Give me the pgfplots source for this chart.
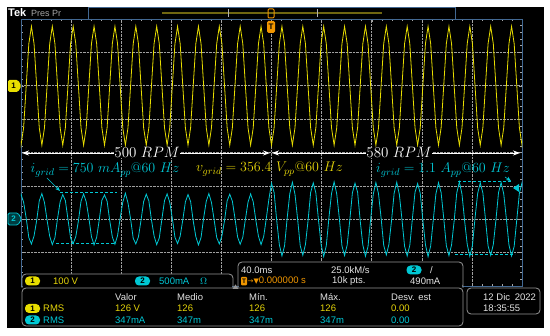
\RequirePackage{fix-cm}
\documentclass[border=0pt]{standalone}
\usepackage{pgfplots}
\pgfplotsset{compat=1.18}
\usepackage{fontspec}
\newfontfamily\ui{Liberation Sans}
\newfontfamily\sym{DejaVu Sans}
\usetikzlibrary{arrows.meta}

\definecolor{scy}{RGB}{232,222,0}
\definecolor{scc}{RGB}{0,200,212}
\definecolor{txy}{RGB}{230,214,10}
\definecolor{txc}{RGB}{0,200,214}
\definecolor{gridb}{RGB}{66,104,146}
\definecolor{orng}{RGB}{240,150,0}
\definecolor{boxg}{RGB}{150,150,150}
\definecolor{wtx}{RGB}{228,228,228}
\definecolor{olv}{RGB}{112,102,16}
\newcommand\uis{\ui\fontsize{9.5}{10}\selectfont}
\newcommand\lab{\fontsize{14}{15}\selectfont}

\tikzset{pill/.style={rounded corners=4pt, inner sep=0pt, minimum width=15pt,
  minimum height=9pt, font=\ui\bfseries\fontsize{8}{8}\selectfont, text=black}}

\begin{document}
\begin{tikzpicture}
\begin{scope}[x=1pt,y=-1pt]
\fill[white] (0,0) rectangle (550,336);
\fill[black] (7,7) rectangle (544,328);
\end{scope}

\begin{axis}[
  at={(21pt,-19pt)}, anchor=north west,
  width=501pt, height=267pt, scale only axis,
  xmin=-96, xmax=96, ymin=-4, ymax=4,
  xtick={-96,-76.8,-57.6,-38.4,-19.2,0,19.2,38.4,57.6,76.8,96},
  ytick={-4,-3,-2,-1,0,1,2,3,4},
  minor x tick num=4, minor y tick num=4,
  xticklabels={}, yticklabels={},
  axis line style={gridb, line width=0.8pt},
  grid=major, major grid style={gray!75, densely dotted, line width=0.5pt},
  tick style={gray!70, line width=0.4pt}, tick align=inside,
  major tick length=3pt, minor tick length=2pt,
  axis background/.style={fill=black},
]
% channel 1, grid voltage (div)
\addplot[scy, line width=0.8pt] coordinates {
(-97,0.74)
(-96,0.22)(-95,0.74)(-94,2)(-93,3.26)(-92,3.78)(-91,3.26)(-90,2)(-89,0.74)
(-88,0.22)(-87,0.74)(-86,2)(-85,3.26)(-84,3.78)(-83,3.26)(-82,2)(-81,0.74)
(-80,0.22)(-79,0.74)(-78,2)(-77,3.26)(-76,3.78)(-75,3.26)(-74,2)(-73,0.74)
(-72,0.22)(-71,0.74)(-70,2)(-69,3.26)(-68,3.78)(-67,3.26)(-66,2)(-65,0.74)
(-64,0.22)(-63,0.74)(-62,2)(-61,3.26)(-60,3.78)(-59,3.26)(-58,2)(-57,0.74)
(-56,0.22)(-55,0.74)(-54,2)(-53,3.26)(-52,3.78)(-51,3.26)(-50,2)(-49,0.74)
(-48,0.22)(-47,0.74)(-46,2)(-45,3.26)(-44,3.78)(-43,3.26)(-42,2)(-41,0.74)
(-40,0.22)(-39,0.74)(-38,2)(-37,3.26)(-36,3.78)(-35,3.26)(-34,2)(-33,0.74)
(-32,0.22)(-31,0.74)(-30,2)(-29,3.26)(-28,3.78)(-27,3.26)(-26,2)(-25,0.74)
(-24,0.22)(-23,0.74)(-22,2)(-21,3.26)(-20,3.78)(-19,3.26)(-18,2)(-17,0.74)
(-16,0.22)(-15,0.74)(-14,2)(-13,3.26)(-12,3.78)(-11,3.26)(-10,2)(-9,0.74)
(-8,0.22)(-7,0.74)(-6,2)(-5,3.26)(-4,3.78)(-3,3.26)(-2,2)(-1,0.74)
(0,0.22)(1,0.74)(2,2)(3,3.26)(4,3.78)(5,3.26)(6,2)(7,0.74)
(8,0.22)(9,0.74)(10,2)(11,3.26)(12,3.78)(13,3.26)(14,2)(15,0.74)
(16,0.22)(17,0.74)(18,2)(19,3.26)(20,3.78)(21,3.26)(22,2)(23,0.74)
(24,0.22)(25,0.74)(26,2)(27,3.26)(28,3.78)(29,3.26)(30,2)(31,0.74)
(32,0.22)(33,0.74)(34,2)(35,3.26)(36,3.78)(37,3.26)(38,2)(39,0.74)
(40,0.22)(41,0.74)(42,2)(43,3.26)(44,3.78)(45,3.26)(46,2)(47,0.74)
(48,0.22)(49,0.74)(50,2)(51,3.26)(52,3.78)(53,3.26)(54,2)(55,0.74)
(56,0.22)(57,0.74)(58,2)(59,3.26)(60,3.78)(61,3.26)(62,2)(63,0.74)
(64,0.22)(65,0.74)(66,2)(67,3.26)(68,3.78)(69,3.26)(70,2)(71,0.74)
(72,0.22)(73,0.74)(74,2)(75,3.26)(76,3.78)(77,3.26)(78,2)(79,0.74)
(80,0.22)(81,0.74)(82,2)(83,3.26)(84,3.78)(85,3.26)(86,2)(87,0.74)
(88,0.22)(89,0.74)(90,2)(91,3.26)(92,3.78)(93,3.26)(94,2)(95,0.74)
(96,0.22)(97,0.74)
};
% channel 2, grid current (div)
\addplot[scc, line width=0.8pt] coordinates {
(-97,-1.47)
(-96,-1.25)(-95,-1.49)(-94,-1.97)(-93,-2.55)(-92,-2.74)(-91,-2.50)(-90,-2.04)(-89,-1.45)
(-88,-1.23)(-87,-1.50)(-86,-2.03)(-85,-2.51)(-84,-2.76)(-83,-2.55)(-82,-1.98)(-81,-1.48)
(-80,-1.26)(-79,-1.44)(-78,-2.00)(-77,-2.56)(-76,-2.73)(-75,-2.52)(-74,-2.05)(-73,-1.46)
(-72,-1.24)(-71,-1.48)(-70,-1.96)(-69,-2.52)(-68,-2.77)(-67,-2.54)(-66,-2.01)(-65,-1.43)
(-64,-1.27)(-63,-1.46)(-62,-2.04)(-61,-2.53)(-60,-2.75)(-59,-2.49)(-58,-1.97)(-57,-1.49)
(-56,-1.22)(-55,-1.51)(-54,-1.99)(-53,-2.57)(-52,-2.74)(-51,-2.53)(-50,-2.03)(-49,-1.47)
(-48,-1.25)(-47,-1.45)(-46,-2.02)(-45,-2.50)(-44,-2.76)(-43,-2.56)(-42,-1.99)(-41,-1.44)
(-40,-1.24)(-39,-1.49)(-38,-1.98)(-37,-2.54)(-36,-2.73)(-35,-2.51)(-34,-2.02)(-33,-1.48)
(-32,-1.26)(-31,-1.47)(-30,-2.05)(-29,-2.52)(-28,-2.77)(-27,-2.55)(-26,-1.96)(-25,-1.46)
(-24,-1.23)(-23,-1.50)(-22,-2.01)(-21,-2.55)(-20,-2.74)(-19,-2.50)(-18,-2.04)(-17,-1.45)
(-16,-1.25)(-15,-1.46)(-14,-1.97)(-13,-2.53)(-12,-2.75)(-11,-2.54)(-10,-2.00)(-9,-1.49)
(-8,-1.24)(-7,-1.48)(-6,-2.03)(-5,-2.51)(-4,-2.76)(-3,-2.52)(-2,-1.98)(-1,-1.40)
(0,-0.92)(1,-1.20)(2,-2.04)(3,-2.76)(4,-3.10)(5,-2.80)(6,-1.97)(7,-1.24)
(8,-0.89)(9,-1.25)(10,-1.99)(11,-2.79)(12,-3.08)(13,-2.76)(14,-2.05)(15,-1.20)
(16,-0.91)(17,-1.21)(18,-2.02)(19,-2.75)(20,-3.12)(21,-2.79)(22,-1.96)(23,-1.23)
(24,-0.88)(25,-1.24)(26,-1.98)(27,-2.80)(28,-3.09)(29,-2.77)(30,-2.03)(31,-1.21)
(32,-0.92)(33,-1.19)(34,-2.05)(35,-2.77)(36,-3.11)(37,-2.81)(38,-1.99)(39,-1.25)
(40,-0.90)(41,-1.23)(42,-1.96)(43,-2.78)(44,-3.07)(45,-2.75)(46,-2.04)(47,-1.22)
(48,-0.89)(49,-1.26)(50,-2.01)(51,-2.81)(52,-3.10)(53,-2.78)(54,-1.98)(55,-1.19)
(56,-0.93)(57,-1.22)(58,-2.03)(59,-2.76)(60,-3.12)(61,-2.80)(62,-2.02)(63,-1.24)
(64,-0.90)(65,-1.20)(66,-1.97)(67,-2.79)(68,-3.09)(69,-2.77)(70,-2.05)(71,-1.21)
(72,-0.88)(73,-1.25)(74,-2.04)(75,-2.75)(76,-3.11)(77,-2.79)(78,-1.96)(79,-1.23)
(80,-0.91)(81,-1.21)(82,-2.00)(83,-2.80)(84,-3.08)(85,-2.76)(86,-2.03)(87,-1.20)
(88,-0.90)(89,-1.24)(90,-1.98)(91,-2.77)(92,-3.10)(93,-2.81)(94,-2.01)(95,-1.22)
(96,-0.91)(97,-1.23)
};
\end{axis}

\begin{scope}[x=1pt,y=-1pt]
% top bar
\node[anchor=west, inner sep=0, text=white, font=\ui\bfseries\fontsize{11}{11}\selectfont] at (8,13) {Tek};
\node[anchor=west, inner sep=0, text=gray!70!white, font=\ui\fontsize{9}{9}\selectfont] at (31,13) {Pres Pr};
\draw[gridb, line width=0.7pt] (88,7.5) rectangle (455,19);
\draw[olv, line width=2pt] (162,13) -- (382,13);
\draw[gray!60, line width=0.9pt] (228,9) -- (228,17) (317,9) -- (317,17);
\draw[orng, line width=1pt, rounded corners=1pt] (268,9) rectangle (274,18);
\fill[orng, rounded corners=1.5pt] (267,21) rectangle (275,33);
\node[text=black, font=\ui\bfseries\fontsize{8}{8}\selectfont, inner sep=0] at (271,27) {T};
% channel markers
\fill[scy, rounded corners=1.5pt] (8,80) -- (18,80) -- (21.5,86) -- (18,92) -- (8,92) -- cycle;
\node[font=\ui\bfseries\fontsize{8}{8}\selectfont, inner sep=0] at (13.5,86) {1};
\filldraw[fill=scc!30!black, draw=scc, line width=0.8pt, rounded corners=1.5pt] (8,213) -- (18,213) -- (21.5,219) -- (18,225) -- (8,225) -- cycle;
\node[text=scc, font=\ui\bfseries\fontsize{8}{8}\selectfont, inner sep=0] at (13.5,219) {2};
\fill[scc] (513,188) -- (519,184) -- (519,192) -- cycle;
% speed arrows
\draw[white, line width=0.9pt, {Stealth[length=7pt,width=5pt]}-{Stealth[length=7pt,width=5pt]}] (22,153) -- (270,153);
\draw[white, line width=0.9pt, {Stealth[length=7pt,width=5pt]}-{Stealth[length=7pt,width=5pt]}] (272,153) -- (520,153);
\node[fill=black, text=white, inner sep=0.3pt, font=\fontsize{15}{16}\selectfont] at (147,152.5) {$500\ RPM$};
\node[fill=black, text=white, inner sep=0.3pt, font=\fontsize{15}{16}\selectfont] at (399,152.5) {$580\ RPM$};
% amplitude labels
\node[text=txc, font=\lab, inner sep=0] at (105,170) {$i_{grid} = 750\ mA_{pp}@60\ Hz$};
\node[text=txy, font=\lab, inner sep=0] at (269.5,169) {$v_{grid} = 356.4\ V_{pp}@60\ Hz$};
\node[text=txc, font=\lab, inner sep=0] at (443,170) {$i_{grid} = 1.1\ A_{pp}@60\ Hz$};
\draw[scc, line width=1pt, dash pattern=on 3pt off 2pt] (60,193) -- (117,193) (56,244) -- (116,244);
\draw[scc, line width=1pt, dash pattern=on 3pt off 2pt] (458,182) -- (512,182) (455,255) -- (515,255);
\draw[scc, line width=0.6pt, -{Stealth[length=5pt,width=4pt]}] (47,178) -- (60,191);
\draw[scc, line width=0.6pt, -{Stealth[length=5pt,width=4pt]}] (505,177) -- (511,181);
% bottom panels
\begin{scope}[boxg, line width=0.8pt, rounded corners=4pt]
\fill[black] (22,274) rectangle (233,288);
\draw (22,288) -- (22,274) -- (233,274) -- (233,288);
\fill[black] (238,262) rectangle (463,288);
\draw (238,288) -- (238,262) -- (463,262) -- (463,288);
\fill[black] (22,288) rectangle (463,326);
\draw (22,288) rectangle (463,326);
\fill[black] (467,288) rectangle (540,314);
\draw (467,288) rectangle (540,314);
\end{scope}
\fill[boxg] (232.5,289) -- (235.5,284.5) -- (238.5,289) -- cycle;
% channel settings
\node[pill, fill=scy] at (32.5,281) {1};
\node[anchor=west, inner sep=0, text=txy, font=\uis] at (53,281) {100 V};
\node[pill, fill=scc] at (142.5,281) {2};
\node[anchor=west, inner sep=0, text=txc, font=\uis] at (159,281) {500mA};
\node[anchor=west, inner sep=0, text=txc, font=\uis] at (200,281) {$\Omega$};
% timebase
\node[anchor=west, inner sep=0, text=wtx, font=\uis] at (241,270) {40.0ms};
\node[anchor=west, inner sep=0, text=wtx, font=\uis] at (331,270) {25.0kM/s};
\node[pill, fill=scc] at (414,270) {2};
\node[anchor=west, inner sep=0, text=wtx, font=\uis] at (430,270) {/};
\fill[orng, rounded corners=1pt] (241,277) rectangle (247,285.5);
\node[text=black, font=\ui\bfseries\fontsize{6.5}{6.5}\selectfont, inner sep=0] at (244,281.3) {T};
\node[anchor=west, inner sep=0, text=orng, font=\uis] at (247.5,281) {{\sym\fontsize{7}{7}\selectfont →▼}0.000000 s};
\node[anchor=west, inner sep=0, text=wtx, font=\uis] at (332,281) {10k pts.};
\node[anchor=west, inner sep=0, text=wtx, font=\uis] at (410,281) {490mA};
% measurements
\foreach \xx/\tt in {115/Valor,177/Medio,249/Mín.,320/Máx.,391/Desv. est}
  \node[anchor=west, inner sep=0, text=wtx, font=\uis] at (\xx,297) {\tt};
\node[pill, fill=scy] at (32.5,308.5) {1};
\node[pill, fill=scc] at (32.5,320) {2};
\foreach \xx/\tt in {43/RMS,115/126 V,177/126,249/126,320/126,391/0.00}
  \node[anchor=west, inner sep=0, text=txy, font=\uis] at (\xx,308.5) {\tt};
\foreach \xx/\tt in {43/RMS,115/347mA,177/347m,249/347m,320/347m,391/0.00}
  \node[anchor=west, inner sep=0, text=txc, font=\uis] at (\xx,320) {\tt};
% date
\node[anchor=west, inner sep=0, text=wtx, font=\uis] at (483,297) {12 Dic\enspace 2022};
\node[anchor=west, inner sep=0, text=wtx, font=\uis] at (483,308) {18:35:55};
\end{scope}
\end{tikzpicture}
\end{document}
